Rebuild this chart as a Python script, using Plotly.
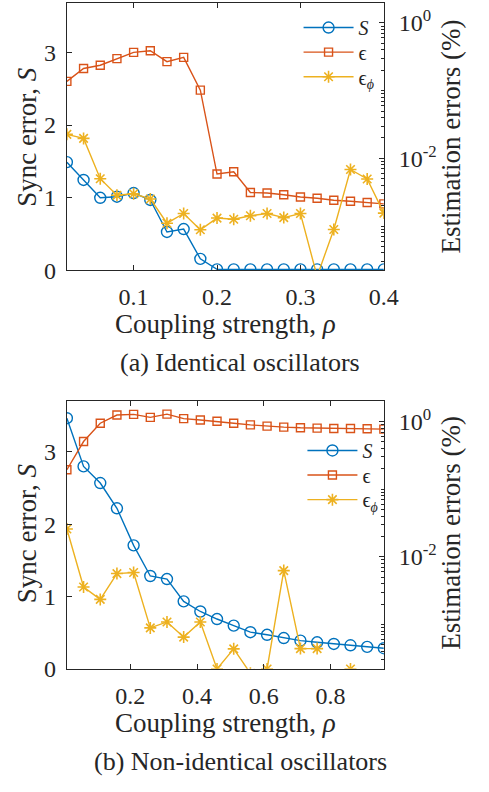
import plotly.graph_objects as go

# ---- data: (a) identical oscillators ----
rho_a = [0.02, 0.04, 0.06, 0.08, 0.10, 0.12, 0.14, 0.16, 0.18, 0.20,
         0.22, 0.24, 0.26, 0.28, 0.30, 0.32, 0.34, 0.36, 0.38, 0.40]
S_a = [1.49, 1.245, 1.0, 1.015, 1.065, 0.97, 0.53, 0.57, 0.16, 0.015,
       0.015, 0.015, 0.015, 0.015, 0.015, 0.015, 0.015, 0.015, 0.015, 0.015]
eps_a = [0.137, 0.212, 0.237, 0.297, 0.367, 0.388, 0.268, 0.310, 0.1017, 0.00586,
         0.00633, 0.00313, 0.00307, 0.0029, 0.00268, 0.00257, 0.0024, 0.00232, 0.00222, 0.00212]
phi_a = [0.0226, 0.0197, 0.0050, 0.00284, 0.0030, 0.00251, 0.0011, 0.00153, 0.00088, 0.00131,
         0.00126, 0.00142, 0.00153, 0.00133, 0.00153, 0.00018, 0.00089, 0.00684, 0.00495, 0.00155]

# ---- data: (b) non-identical oscillators ----
rho_b = [0.01, 0.06, 0.11, 0.16, 0.21, 0.26, 0.31, 0.36, 0.41, 0.46,
         0.51, 0.56, 0.61, 0.66, 0.71, 0.76, 0.81, 0.86, 0.91, 0.96]
S_b = [3.466, 2.80, 2.57, 2.22, 1.708, 1.284, 1.242, 0.933, 0.793, 0.689,
       0.598, 0.507, 0.471, 0.426, 0.390, 0.367, 0.344, 0.326, 0.304, 0.285]
eps_b = [0.194, 0.507, 0.946, 1.25, 1.28, 1.156, 1.29, 1.105, 1.057, 1.01,
         0.946, 0.895, 0.856, 0.828, 0.809, 0.80, 0.791, 0.791, 0.782, 0.774]
phi_b = [0.0258, 0.00358, 0.00235, 0.00566, 0.00586, 0.00089, 0.00109, 0.00065, 0.00109, 0.00022,
         0.000436, 0.00019, 0.00022, 0.00626, 0.00044, 0.00044, None, 0.00022, None, None]

series_names = ["<i>S</i>", "ϵ", "ϵ<sub><i>ϕ</i></sub>"]
left_ticks = [0, 1, 2, 3]
right_ticks = [1e-2, 1e0]
right_ticktext = ["10<sup>-2</sup>", "10<sup>0</sup>"]

BLUE = "#0072BD"
ORANGE = "#D95319"
YELLOW = "#EDB120"
AX = "#262626"
FONT = "'Liberation Serif', 'Times New Roman', serif"

minor_vals = [m * 10.0 ** e for e in range(-4, 1) for m in range(1, 10)]

fig = go.Figure()

def add_panel(x, S, eps, phi, xa, ya, ya2, legs):
    fig.add_trace(go.Scatter(x=x, y=S, name=series_names[0], xaxis=xa, yaxis=ya, legend=legs[0],
                             mode="lines+markers",
                             line=dict(color=BLUE, width=1.4),
                             marker=dict(symbol="circle-open", size=11, color=BLUE,
                                         line=dict(width=1.4, color=BLUE))))
    fig.add_trace(go.Scatter(x=x, y=eps, name=series_names[1], xaxis=xa, yaxis=ya2, legend=legs[1],
                             mode="lines+markers",
                             line=dict(color=ORANGE, width=1.4),
                             marker=dict(symbol="square-open", size=8, color=ORANGE,
                                         line=dict(width=1.4, color=ORANGE))))
    fig.add_trace(go.Scatter(x=x, y=phi, name=series_names[2], xaxis=xa, yaxis=ya2, legend=legs[2],
                             mode="lines+markers",
                             line=dict(color=YELLOW, width=1.4),
                             marker=dict(symbol="asterisk-open", size=10, color=YELLOW,
                                         line=dict(width=1.6, color=YELLOW))))

add_panel(rho_a, S_a, eps_a, phi_a, "x", "y", "y2", ["legend", "legend2", "legend3"])
add_panel(rho_b, S_b, eps_b, phi_b, "x2", "y3", "y4", ["legend4", "legend5", "legend6"])

W, H = 489, 792
xdom = [69 / W, 396 / W]
ydom_a = [1 - 275 / H, 1 - 3 / H]
ydom_b = [1 - 680 / H, 1 - 408 / H]

TICKF = dict(family=FONT, size=24, color=AX)
common_x = dict(showline=True, linecolor=AX, linewidth=1, mirror="ticks", ticks="inside",
                ticklen=5, tickcolor=AX, tickfont=TICKF, ticklabelstandoff=5,
                showgrid=False, zeroline=False, domain=xdom)
common_y = dict(showline=True, linecolor=AX, linewidth=1, ticks="inside", ticklen=5,
                tickcolor=AX, tickfont=TICKF, ticklabelstandoff=5,
                showgrid=False, zeroline=False, tickvals=left_ticks)
common_y2 = dict(type="log", side="right", showline=True, linecolor=AX, linewidth=1,
                 ticks="inside", ticklen=5, tickcolor=AX, tickfont=TICKF, ticklabelstandoff=9,
                 tickvals=right_ticks, ticktext=right_ticktext,
                 minor=dict(ticks="inside", ticklen=2.5, tickcolor=AX, tickvals=minor_vals),
                 showgrid=False, zeroline=False)

def leg(xpx, ypx):
    return dict(x=xpx / W, y=1 - ypx / H, xanchor="left", yanchor="middle",
                bgcolor="rgba(0,0,0,0)", font=dict(family=FONT, size=20, color=AX),
                itemwidth=50, tracegroupgap=0)

fig.update_layout(
    width=W, height=H, margin=dict(l=0, r=0, t=0, b=0),
    paper_bgcolor="white", plot_bgcolor="white",
    font=dict(family=FONT, color=AX),
    xaxis=dict(common_x, anchor="y", range=[0.02, 0.4], tickvals=[0.1, 0.2, 0.3, 0.4]),
    yaxis=dict(common_y, anchor="x", domain=ydom_a, range=[0, 3.68]),
    yaxis2=dict(common_y2, anchor="x", overlaying="y", range=[-3.657, 0.295]),
    xaxis2=dict(common_x, anchor="y3", range=[0.01, 0.96], tickvals=[0.2, 0.4, 0.6, 0.8]),
    yaxis3=dict(common_y, anchor="x2", domain=ydom_b, range=[0, 3.70]),
    yaxis4=dict(common_y2, anchor="x2", overlaying="y3", range=[-3.656, 0.300]),
    legend=leg(308, 28), legend2=leg(308, 53), legend3=leg(308, 78),
    legend4=leg(312, 458), legend5=leg(312, 483), legend6=leg(312, 508),
    showlegend=True,
)

def ann(text, x, y, size, angle=0):
    fig.add_annotation(text=text, x=x / W, y=1 - y / H, xref="paper", yref="paper",
                       showarrow=False, textangle=angle,
                       font=dict(family=FONT, size=size, color=AX),
                       xanchor="center", yanchor="middle")

# panel (a)
ann("Coupling strength, <i>ρ</i>", 233, 329, 27)
ann("(a) Identical oscillators", 248, 369, 26)
ann("Sync error, <i>S</i>", 28, 139, 27, -90)
ann("Estimation errors (%)", 465, 139, 27, -90)
# panel (b)
ann("Coupling strength, <i>ρ</i>", 233, 735, 27)
ann("(b) Non-identical oscillators", 248, 774, 26)
ann("Sync error, <i>S</i>", 28, 542, 27, -90)
ann("Estimation errors (%)", 465, 542, 27, -90)

fig.write_html("out.html")
